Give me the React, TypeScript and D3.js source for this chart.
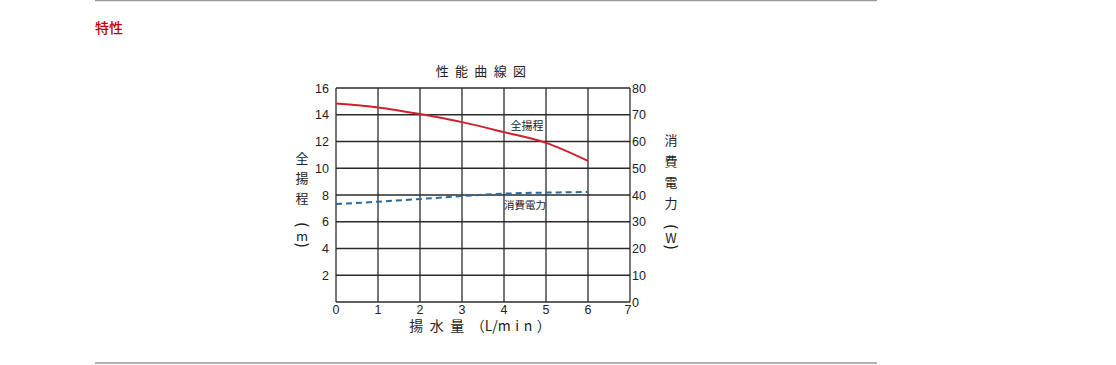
import React from "react";
import * as d3 from "d3";

const flow = [0, 1, 2, 3, 4, 5, 6];
const head = [14.85, 14.55, 14.05, 13.45, 12.7, 11.9, 10.55];
const power = [36.6, 37.5, 38.5, 39.6, 40.5, 40.9, 41.1];
const xTicks = [0, 1, 2, 3, 4, 5, 6, 7];
const leftTicks = [2, 4, 6, 8, 10, 12, 14, 16];
const rightTicks = [0, 10, 20, 30, 40, 50, 60, 70, 80];
const leftLabel = ["全", "揚", "程", "（", "m", "）"];
const rightLabel = ["消", "費", "電", "力", "（", "W", "）"];

const x = d3.scaleLinear().domain([0, 7]).range([336, 630]);
const yL = d3.scaleLinear().domain([0, 16]).range([302, 88]);
const yR = d3.scaleLinear().domain([0, 80]).range([302, 88]);

const FONT = "'Liberation Sans', Arial, 'Noto Sans CJK JP', sans-serif";
const CJK = "'Noto Sans CJK JP', sans-serif";

function VChar({ c, cx, cy }: { c: string; cx: number; cy: number }) {
  const paren = c === "（" || c === "）";
  if (paren) {
    return (
      <text
        x={cx}
        y={cy}
        textAnchor="middle"
        dominantBaseline="central"
        fontSize={15}
        fontFamily={"'DejaVu Sans', sans-serif"}
        fill="#222"
        transform={`rotate(90 ${cx} ${cy})`}
      >
        {c === "（" ? "(" : ")"}
      </text>
    );
  }
  return (
    <text x={cx} y={cy} textAnchor="middle" dominantBaseline="central" fontSize={13} fontFamily={CJK} fill="#222">
      {c}
    </text>
  );
}

export default function App() {
  const headLine = d3
    .line<number>()
    .x((_, i) => x(flow[i]))
    .y((d) => yL(d))
    .curve(d3.curveMonotoneX)(head) as string;
  const powerLine = d3
    .line<number>()
    .x((_, i) => x(flow[i]))
    .y((d) => yR(d))
    .curve(d3.curveMonotoneX)(power) as string;
  const grid = "#2b2b2b";
  const leftY = [157, 177, 197, 225, 235, 245];
  const rightY = [139, 160, 181, 202, 227, 237, 247];
  return (
    <svg
      width={1116}
      height={365}
      style={{ position: "absolute", left: 0, top: 0, background: "#fff" }}
    >
      <line x1={95} x2={877} y1={0.5} y2={0.5} stroke="#999" strokeWidth={1.5} />
      <line x1={95} x2={877} y1={363} y2={363} stroke="#999" strokeWidth={1.5} />
      <text x={95} y={33} fill="#c00000" fontSize={14} fontFamily={CJK} fontWeight={500}>
        特性
      </text>
      <text x={484} y={76} textAnchor="middle" fontSize={13} fontFamily={CJK} fill="#222" letterSpacing={6.3}>
        性能曲線図
      </text>
      {leftTicks.map((t) => (
        <line key={"h" + t} x1={x(0)} x2={x(7)} y1={yL(t)} y2={yL(t)} stroke={grid} strokeWidth={1.3} />
      ))}
      <line x1={x(0)} x2={x(7)} y1={yL(0)} y2={yL(0)} stroke={grid} strokeWidth={1.3} />
      {xTicks.map((t) => (
        <line key={"v" + t} x1={x(t)} x2={x(t)} y1={yL(0)} y2={yL(16)} stroke={grid} strokeWidth={1.3} />
      ))}
      {leftTicks.map((t) => (
        <text key={"lt" + t} x={329} y={yL(t) + 4.5} textAnchor="end" fontSize={12.5} fontFamily={FONT} fill="#222">
          {t}
        </text>
      ))}
      {rightTicks.map((t) => (
        <text key={"rt" + t} x={632} y={yR(t) + 4.5} textAnchor="start" fontSize={12.5} fontFamily={FONT} fill="#222">
          {t}
        </text>
      ))}
      {xTicks.map((t) => (
        <text key={"xt" + t} x={x(t) - (t === 7 ? 2 : 0)} y={314} textAnchor="middle" fontSize={12.5} fontFamily={FONT} fill="#222">
          {t}
        </text>
      ))}
      <path d={headLine} fill="none" stroke="#d0202e" strokeWidth={2} />
      <path d={powerLine} fill="none" stroke="#2a6a9c" strokeWidth={2} strokeDasharray="6,4" />
      <text x={527} y={130} textAnchor="middle" fontSize={11} fontFamily={CJK} fill="#222">
        全揚程
      </text>
      <text x={525} y={209} textAnchor="middle" fontSize={10.5} fontFamily={CJK} fill="#222">
        消費電力
      </text>
      {leftLabel.map((c, i) => (
        <VChar key={"ll" + i} c={c} cx={302} cy={leftY[i]} />
      ))}
      {rightLabel.map((c, i) => (
        <VChar key={"rl" + i} c={c} cx={671} cy={rightY[i]} />
      ))}
      <text x={480} y={331} textAnchor="middle" fontSize={14} fontFamily={CJK} fill="#222">
        <tspan letterSpacing={6.5}>揚水量</tspan>
        <tspan>（L/</tspan>
        <tspan letterSpacing={4.5}>min</tspan>
        <tspan>）</tspan>
      </text>
    </svg>
  );
}
